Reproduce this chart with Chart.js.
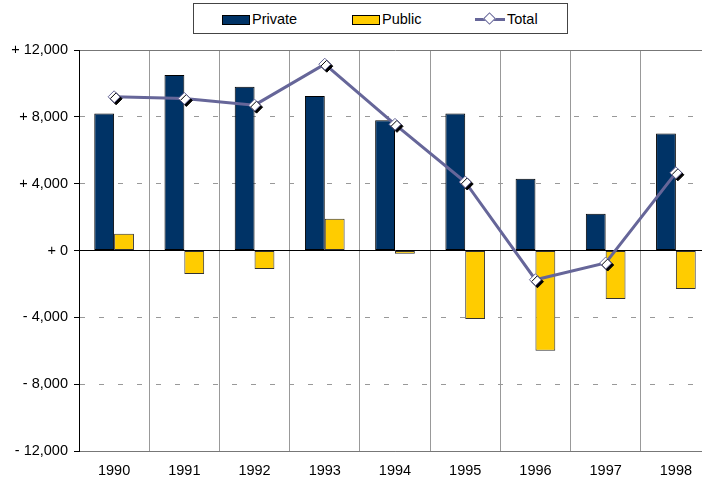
<!DOCTYPE html>
<html>
<head>
<meta charset="utf-8">
<script src="https://cdn.jsdelivr.net/npm/chart.js@4.4.1/dist/chart.umd.min.js"></script>
<style>
  html, body { margin: 0; padding: 0; background: #fff; overflow: hidden; }
  body { width: 702px; height: 482px; position: relative; font-family: "Liberation Sans", Arial, sans-serif; }
  #wrap { position: absolute; left: 0; top: 0; width: 718px; height: 482px; }
  #legend {
    position: absolute; left: 193px; top: 3px; width: 373px; height: 29px;
    border: 1px solid #444; background: #fff; font-size: 14.5px; color: #000;
  }
  .item { position: absolute; top: 6px; height: 18px; line-height: 18px; }
  .sw { display: inline-block; width: 26px; height: 8px; border: 1px solid #000; vertical-align: -1px; margin-right: 2px; }
  .ln { display: inline-block; position: relative; width: 30px; height: 10px; vertical-align: 0; margin-right: 2px; }
  .ln::before { content: ""; position: absolute; left: 0; right: 0; top: 4px; height: 3px; background: #666699; }
  .ln::after { content: ""; position: absolute; left: 10px; top: 0; width: 7px; height: 7px; background: #fff;
    border: 1px solid #666699; transform: rotate(45deg); }
</style>
</head>
<body>
<div id="wrap"><canvas id="chart" width="718" height="482"></canvas></div>
<div id="legend">
  <span class="item" style="left:28px"><span class="sw" style="background:#003366"></span>Private</span>
  <span class="item" style="left:158px"><span class="sw" style="background:#FFCC00"></span>Public</span>
  <span class="item" style="left:281px"><span class="ln"></span>Total</span>
</div>
<script>
const years = ['1990', '1991', '1992', '1993', '1994', '1995', '1996', '1997', '1998'];
const privateFlows = [8200, 10500, 9800, 9250, 7800, 8200, 4300, 2200, 7000];
const publicFlows = [1000, -1400, -1100, 1900, -200, -4100, -6000, -2900, -2300];
const totalFlows = [9200, 9100, 8700, 11150, 7550, 4100, -1750, -750, 4650];
const yTicks = [-12000, -8000, -4000, 0, 4000, 8000, 12000];

function signed(v) {
  const s = Math.abs(v).toLocaleString('en-US');
  return (v < 0 ? '- ' : '+ ') + s;
}

const markerShadow = {
  id: 'markerShadow',
  beforeDatasetDraw(chart, args) {
    if (args.index !== 3) return;
    const ctx = chart.ctx;
    ctx.save();
    ctx.shadowColor = '#000';
    ctx.shadowOffsetX = 2;
    ctx.shadowOffsetY = 2;
    ctx.shadowBlur = 0;
  },
  afterDatasetDraw(chart, args) {
    if (args.index !== 3) return;
    chart.ctx.restore();
  }
};

new Chart(document.getElementById('chart'), {
  type: 'bar',
  data: {
    labels: years,
    datasets: [
      {
        label: 'Private',
        data: privateFlows,
        backgroundColor: '#003366',
        borderColor: '#000',
        borderWidth: 1,
        borderSkipped: false,
        categoryPercentage: 0.565,
        barPercentage: 1.0,
        order: 3
      },
      {
        label: 'Public',
        data: publicFlows,
        backgroundColor: '#FFCC00',
        borderColor: '#333',
        borderWidth: 1,
        borderSkipped: false,
        categoryPercentage: 0.565,
        barPercentage: 1.0,
        order: 3
      },
      {
        type: 'line',
        label: 'Total',
        data: totalFlows,
        borderColor: '#666699',
        borderWidth: 3,
        pointRadius: 0,
        tension: 0,
        order: 2
      },
      {
        type: 'line',
        label: 'Total markers',
        data: totalFlows,
        showLine: false,
        pointStyle: 'rectRot',
        pointRadius: 6,
        pointBackgroundColor: '#fff',
        pointBorderColor: '#666699',
        pointBorderWidth: 1,
        order: 1
      }
    ]
  },
  options: {
    responsive: false,
    animation: false,
    layout: { padding: { top: 50, right: 1, left: 0, bottom: 0 } },
    plugins: { legend: { display: false }, tooltip: { enabled: false } },
    scales: {
      x: {
        grid: { offset: true, color: '#999', drawTicks: false, lineWidth: 1 },
        border: { color: '#777' },
        ticks: { color: '#000', font: { family: 'Liberation Sans', size: 14.5 }, padding: 11 },
        afterFit(s) { s.height = 31; }
      },
      y: {
        min: -12000,
        max: 12000,
        afterBuildTicks(s) { s.ticks = yTicks.map(v => ({ value: v })); },
        afterFit(s) { s.width = 79; },
        grid: {
          color: c => c.tick && c.tick.value === 0 ? '#000' : (Math.abs(c.tick ? c.tick.value : 0) === 12000 ? '#777' : '#999'),
          tickColor: '#000',
          tickLength: 5,
          lineWidth: 1
        },
        border: {
          color: '#000',
          dash: c => (c.tick && (c.tick.value === 0 || Math.abs(c.tick.value) === 12000)) ? [] : [5, 14]
        },
        ticks: {
          color: '#000',
          font: { family: 'Liberation Sans', size: 14.5 },
          padding: 6,
          callback: v => signed(v)
        }
      }
    }
  },
  plugins: [markerShadow]
});
</script>
</body>
</html>
